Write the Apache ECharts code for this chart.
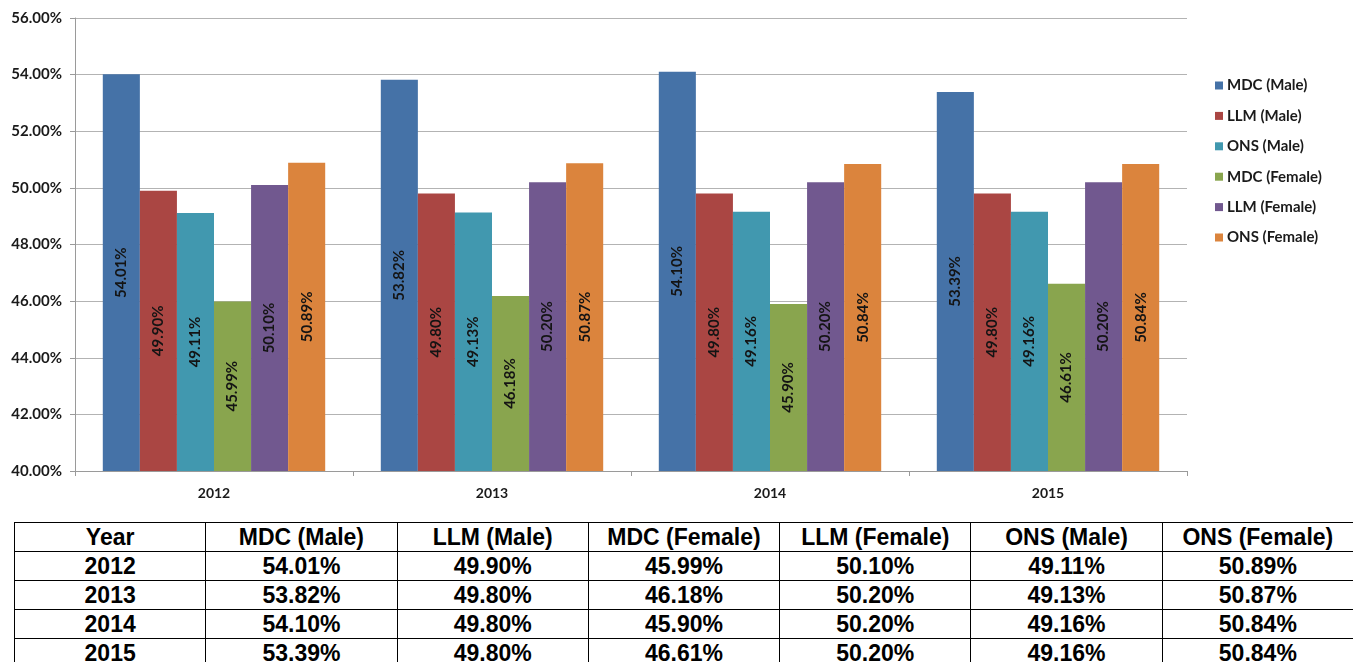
<!DOCTYPE html>
<html>
<head>
<meta charset="utf-8">
<script src="https://cdn.jsdelivr.net/npm/echarts@6/dist/echarts.min.js"></script>
<style>
html,body{margin:0;padding:0;background:#fff;width:1353px;height:662px;overflow:hidden;}
#chart{position:absolute;left:0;top:0;width:1353px;height:515px;}
#tbl{position:absolute;left:14px;top:522px;border-collapse:collapse;table-layout:fixed;width:1340px;
 font-family:"Liberation Sans",Arial,sans-serif;font-weight:bold;font-size:23px;color:#000;}
#tbl td,#tbl th{border:1.5px solid #000;text-align:center;padding:0;height:28px;line-height:26px;font-weight:bold;overflow:hidden;white-space:nowrap;}
</style>
</head>
<body>
<div id="chart"></div>
<table id="tbl"></table>
<script>
const years = ['2012','2013','2014','2015'];
const seriesNames = ['MDC (Male)','LLM (Male)','ONS (Male)','MDC (Female)','LLM (Female)','ONS (Female)'];
const mdcMale   = [54.01, 53.82, 54.10, 53.39];
const llmMale   = [49.90, 49.80, 49.80, 49.80];
const onsMale   = [49.11, 49.13, 49.16, 49.16];
const mdcFemale = [45.99, 46.18, 45.90, 46.61];
const llmFemale = [50.10, 50.20, 50.20, 50.20];
const onsFemale = [50.89, 50.87, 50.84, 50.84];
const yTicks = [40, 42, 44, 46, 48, 50, 52, 54, 56];
const tableColumns = ['Year','MDC (Male)','LLM (Male)','MDC (Female)','LLM (Female)','ONS (Male)','ONS (Female)'];

const colors = ['#4572A7','#AA4643','#4198AF','#89A54E','#71588F','#DB843D'];
const seriesData = [mdcMale, llmMale, onsMale, mdcFemale, llmFemale, onsFemale];
const fmt = v => Number(v).toFixed(2) + '%';
const font = 'Lato, "Open Sans", sans-serif';

const chart = echarts.init(document.getElementById('chart'), null, {renderer:'canvas'});
chart.setOption({
  animation:false,
  color: colors,
  grid:{left:75, top:18, width:1112, height:453, containLabel:false},
  legend:{
    orient:'vertical', left:1210, top:73, itemWidth:8, itemHeight:8, itemGap:15.4,
    icon:'rect', data: seriesNames,
    textStyle:{fontFamily:font, fontWeight:'bold', fontSize:15, color:'#1a1a1a', padding:[0,0,0,-1]}
  },
  xAxis:{
    type:'category', data: years,
    axisLine:{lineStyle:{color:'#9a9a9a', width:1}},
    axisTick:{show:true, length:5, lineStyle:{color:'#9a9a9a'}},
    axisLabel:{fontFamily:font, fontWeight:'bold', fontSize:14, color:'#1a1a1a', margin:15}
  },
  yAxis:{
    type:'value', min:yTicks[0], max:yTicks[yTicks.length-1], interval:2,
    axisLine:{show:true, lineStyle:{color:'#9a9a9a'}},
    axisTick:{show:true, length:5, lineStyle:{color:'#9a9a9a'}},
    splitLine:{lineStyle:{color:'#b3b3b3', width:1}},
    axisLabel:{fontFamily:font, fontWeight:'bold', fontSize:15, color:'#1a1a1a', margin:13, formatter: fmt}
  },
  series: seriesNames.map((n,i)=>({
    name:n, type:'bar', data: seriesData[i],
    barGap:'0%', barCategoryGap:'20%',
    label:{show:true, position:'inside', rotate:90, formatter:p=>fmt(p.value),
      fontFamily:font, fontWeight:'bold', fontSize:15, color:'#141414'}
  }))
});

// table
const tableRows = years.map((y,i)=>[y, fmt(mdcMale[i]), fmt(llmMale[i]), fmt(mdcFemale[i]), fmt(llmFemale[i]), fmt(onsMale[i]), fmt(onsFemale[i])]);
const tbl = document.getElementById('tbl');
let html = '<tr>' + tableColumns.map(c=>'<td>'+c+'</td>').join('') + '</tr>';
tableRows.forEach(r=>{ html += '<tr>' + r.map(c=>'<td>'+c+'</td>').join('') + '</tr>'; });
tbl.innerHTML = html;
</script>
</body>
</html>
